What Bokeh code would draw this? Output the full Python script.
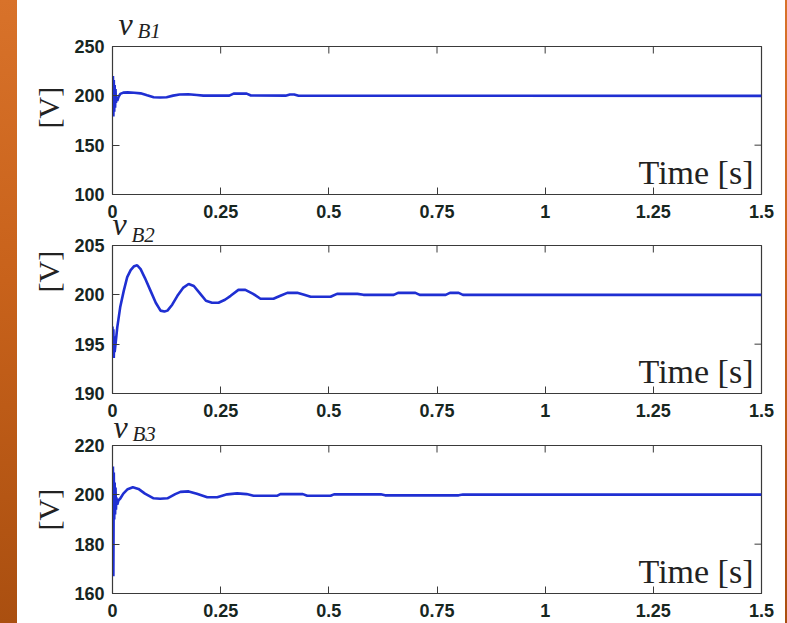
from bokeh.plotting import figure
from bokeh.models import Range1d, FixedTicker, Label, Spacer, Title
from bokeh.layouts import row, column
from bokeh.embed import file_html
from bokeh.resources import INLINE

# shared time axis
x_ticks = [0, 0.25, 0.5, 0.75, 1, 1.25, 1.5]
x_tick_labels = ["0", "0.25", "0.5", "0.75", "1", "1.25", "1.5"]

# bus voltage vB1 [V]
t_b1 = [0.0, 0.001, 0.002, 0.003, 0.004, 0.005, 0.006, 0.007, 0.008, 0.009,
        0.011, 0.014, 0.018, 0.025, 0.035, 0.05, 0.065, 0.08, 0.095, 0.11,
        0.125, 0.14, 0.155, 0.175, 0.195, 0.21, 0.27, 0.28, 0.31, 0.32,
        0.40, 0.41, 0.42, 0.43, 1.5]
v_b1 = [200, 220, 179, 216, 184, 211, 188, 207, 193, 196,
        195, 199, 202, 203.3, 203.5, 203.2, 202.5, 200.5, 198.6, 198.3,
        198.6, 200.2, 201.4, 201.6, 200.8, 200.2, 200.2, 202.2, 202.3, 200.3,
        200.2, 201.4, 201.3, 200.1, 200]
y_ticks_b1 = [100, 150, 200, 250]

# bus voltage vB2 [V]
t_b2 = [0.0, 0.001, 0.002, 0.003, 0.004, 0.005, 0.007, 0.011, 0.018, 0.026,
        0.034, 0.042, 0.05, 0.057, 0.065, 0.075, 0.088, 0.1, 0.111, 0.12,
        0.127, 0.138, 0.15, 0.163, 0.176, 0.188, 0.203, 0.216, 0.23, 0.245,
        0.26, 0.273, 0.291, 0.307, 0.325, 0.342, 0.372, 0.388, 0.404, 0.427,
        0.443, 0.458, 0.504, 0.519, 0.566, 0.58, 0.65, 0.66, 0.7, 0.71,
        0.77, 0.78, 0.8, 0.81, 1.5]
v_b2 = [196.8, 193.8, 196.5, 193.6, 195.8, 194.2, 195.0, 196.7, 198.8, 200.4,
        201.8, 202.5, 202.9, 203.0, 202.6, 201.7, 200.4, 199.2, 198.4, 198.3,
        198.4, 199.0, 199.9, 200.7, 201.1, 200.9, 200.1, 199.4, 199.2, 199.2,
        199.5, 199.9, 200.5, 200.5, 200.1, 199.6, 199.6, 199.9, 200.2, 200.2,
        200.0, 199.8, 199.8, 200.1, 200.1, 200.0, 200.0, 200.2, 200.2, 200.0,
        200.0, 200.2, 200.2, 200.0, 200.0]
y_ticks_b2 = [190, 195, 200, 205]

# bus voltage vB3 [V]
t_b3 = [0.0, 0.001, 0.002, 0.003, 0.004, 0.005, 0.006, 0.007, 0.008, 0.009,
        0.011, 0.014, 0.018, 0.025, 0.035, 0.047, 0.06, 0.075, 0.095, 0.11,
        0.127, 0.145, 0.157, 0.176, 0.195, 0.219, 0.242, 0.265, 0.288, 0.31,
        0.326, 0.38, 0.388, 0.44, 0.45, 0.504, 0.512, 0.62, 0.63, 0.8,
        0.81, 1.5]
v_b3 = [200, 211.5, 167, 209, 190, 205, 192, 203, 194, 199,
        196, 197.8, 198.5, 200.5, 202.3, 203.1, 202.4, 200.5, 198.6, 198.4,
        198.6, 200.3, 201.2, 201.4, 200.4, 199.0, 199.0, 200.2, 200.6, 200.3,
        199.6, 199.6, 200.3, 200.3, 199.6, 199.6, 200.2, 200.2, 199.8, 199.8,
        200.1, 200.1]
y_ticks_b3 = [160, 180, 200, 220]

LINE = "#1f2fd2"
FRAME = "#3a3a3a"
TICK_TXT = "#17261f"
INK = "#222222"
SERIF = "Liberation Serif"
SANS = "Liberation Sans"
FRAME_W, FRAME_H = 649, 148


def style_axis(ax, ticks):
    ax.ticker = FixedTicker(ticks=ticks)
    ax.major_tick_in = 7
    ax.major_tick_out = 0
    ax.minor_tick_line_color = None
    ax.axis_line_color = FRAME
    ax.major_tick_line_color = FRAME
    ax.major_label_text_font = SANS
    ax.major_label_text_font_style = "bold"
    ax.major_label_text_font_size = "18px"
    ax.major_label_text_color = TICK_TXT


def panel(t, v, y_ticks, sub, name_dx, sub_standoff, name_standoff, unit_offset,
          border_fill, top_margin):
    lo, hi = y_ticks[0], y_ticks[-1]
    p = figure(frame_width=FRAME_W, frame_height=FRAME_H,
               x_range=Range1d(0, 1.5), y_range=Range1d(lo, hi),
               output_backend="svg", toolbar_location=None,
               min_border_left=95, min_border_right=24,
               min_border_top=40, min_border_bottom=30,
               background_fill_color="white", border_fill_color=border_fill,
               outline_line_color=FRAME, outline_line_width=1.2,
               margin=(top_margin, 0, 0, 0))
    p.grid.visible = False

    style_axis(p.xaxis[0], x_ticks)
    p.xaxis[0].major_label_overrides = dict(zip(x_ticks, x_tick_labels))
    p.xaxis[0].major_label_standoff = 10
    style_axis(p.yaxis[0], y_ticks)
    p.yaxis[0].major_label_standoff = 8

    # inward ticks on the top and right edges of the box (half of each dash is clipped)
    p.scatter(x_ticks, [hi] * len(x_ticks), marker="dash", size=14, angle=1.5708,
              line_color=FRAME, line_width=1)
    p.scatter([1.5] * len(y_ticks), y_ticks, marker="dash", size=14,
              line_color=FRAME, line_width=1)

    p.line(t, v, line_color=LINE, line_width=2.6)

    # panel name v_Bk: subscript next to the box, italic v just above it
    p.add_layout(Title(text=sub, align="left", offset=name_dx + 19,
                       vertical_align="bottom", standoff=sub_standoff,
                       text_font=SERIF, text_font_style="italic",
                       text_font_size="21px", text_color=INK), "above")
    p.title.text = "v"
    p.title.align = "left"
    p.title.vertical_align = "bottom"
    p.title.offset = name_dx
    p.title.standoff = name_standoff
    p.title.text_font = SERIF
    p.title.text_font_style = "italic"
    p.title.text_font_size = "32px"
    p.title.text_color = INK

    # unit label, left of the tick labels
    p.add_layout(Title(text="[V]", align="left", offset=unit_offset,
                       vertical_align="bottom", standoff=14,
                       text_font=SERIF, text_font_style="normal",
                       text_font_size="30px", text_color=INK), "left")

    # time caption inside the box
    p.add_layout(Label(x=1.5, y=lo, x_offset=-8, y_offset=22, text="Time [s]",
                       text_font=SERIF, text_font_size="34px", text_color=INK,
                       text_align="right", text_baseline="middle"))
    return p


p1 = panel(t_b1, v_b1, y_ticks_b1, "B1", 6, 7, -56, 66, "white", 0)
p2 = panel(t_b2, v_b2, y_ticks_b2, "B2", 0, -2, -40, 101, None, -19)
p3 = panel(t_b3, v_b3, y_ticks_b3, "B3", 1, -1, -48, 63, None, -18)

page = row(
    Spacer(width=17, height=623),
    column(Spacer(width=768, height=6), p1, p2, p3, styles={"background": "white"}),
    Spacer(width=2, height=623),
    styles={"background": "linear-gradient(180deg, #d8722a 0%, #c8621b 45%, #aa4f10 100%)"},
)

open("out.html", "w").write(file_html(page, INLINE))
